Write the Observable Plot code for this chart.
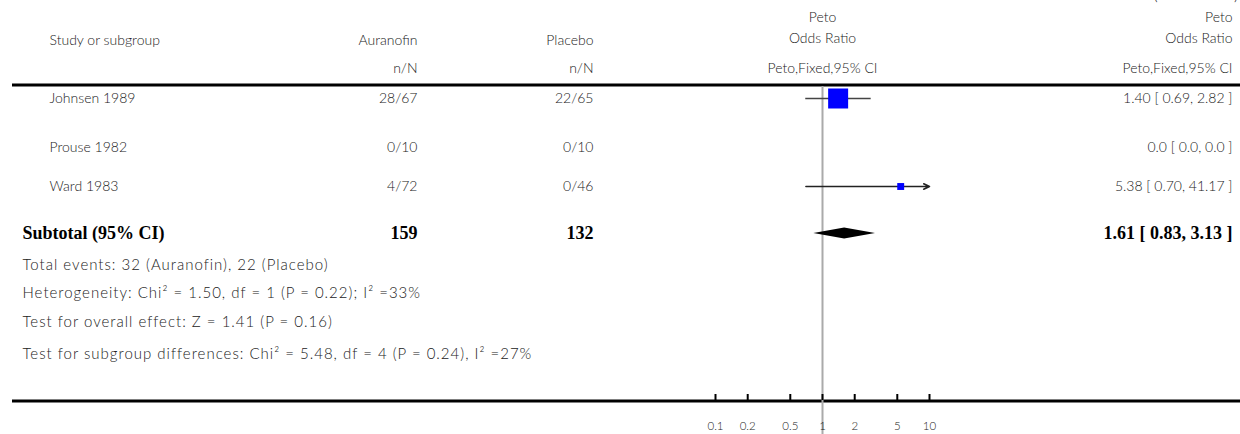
<!DOCTYPE html>
<html>
<head>
<meta charset="utf-8">
<script src="https://cdn.jsdelivr.net/npm/d3@7"></script>
<script src="https://cdn.jsdelivr.net/npm/@observablehq/plot@0.6"></script>
<style>
  body { margin: 0; background: #fff; }
  #chart { position: relative; width: 1240px; height: 434px; overflow: hidden; }
  #chart svg { position: absolute; left: 0; top: 0; }
</style>
</head>
<body>
<div id="chart"></div>
<script>
// ---- data ----
const studies = ["Johnsen 1989", "Prouse 1982", "Ward 1983"];
const auranofin = ["28/67", "0/10", "4/72"];
const placebo = ["22/65", "0/10", "0/46"];
const oddsRatio = [1.40, null, 5.38];
const ciLower = [0.69, null, 0.70];
const ciUpper = [2.82, null, 41.17];
const weights = [89.3, 0, 10.7];
const effectText = ["1.40 [ 0.69, 2.82 ]", "0.0 [ 0.0, 0.0 ]", "5.38 [ 0.70, 41.17 ]"];

const subtotalLabel = "Subtotal (95% CI)";
const subtotalTotals = ["159", "132"];
const subtotalOR = 1.61, subtotalLower = 0.83, subtotalUpper = 3.13;
const subtotalText = "1.61 [ 0.83, 3.13 ]";

const notes = [
  "Total events: 32 (Auranofin), 22 (Placebo)",
  "Heterogeneity: Chi\u00b2 = 1.50, df = 1 (P = 0.22); I\u00b2 =33%",
  "Test for overall effect: Z = 1.41 (P = 0.16)",
  "Test for subgroup differences: Chi\u00b2 = 5.48, df = 4 (P = 0.24), I\u00b2 =27%"
];

const axisTicks = [0.1, 0.2, 0.5, 1, 2, 5, 10];
const axisTickLabels = ["0.1", "0.2", "0.5", "1", "2", "5", "10"];

// ---- layout ----
const W = 1240, H = 434;
const rowY = [98, 147, 186];
const subtotalY = 233;
const noteY = [265, 293, 322, 354];
const col = { study: 49, summary: 22, aur: 417, pla: 593, mid: 822, right: 1232 };
const topRuleY = 84.5, axisY = 400.5;
const displayMax = 10; // intervals beyond the axis end get an arrow

const sans = "Lato, 'Open Sans', sans-serif";
const serif = "'Liberation Serif', 'DejaVu Serif', serif";
const ink = "#222";
const fs = 14;
const light = 300;

const rows = studies.map((s, i) => ({
  study: s, aur: auranofin[i], pla: placebo[i],
  or: oddsRatio[i], lo: ciLower[i], hi: ciUpper[i], w: weights[i],
  txt: effectText[i], y: rowY[i]
}));

const label = (t, x, y, anchor, extra = {}) =>
  Plot.text([t], { x, y, text: d => d, textAnchor: anchor, fontSize: fs, fontWeight: light, fill: ink, ...extra });

const bold = { fontSize: 18, fontWeight: "bold", fontFamily: serif, fill: "#000" };

// ---- table layer (text and rules) ----
const table = Plot.plot({
  width: W, height: H, margin: 0,
  x: { type: "identity", axis: null }, y: { type: "identity", axis: null },
  style: { fontFamily: sans, background: "transparent" },
  marks: [
    label("(Continued)", 1238, -6, "end", { fontSize: 17 }),
    // header
    label("Study or subgroup", col.study, 40, "start"),
    label("Auranofin", col.aur, 40, "end"),
    label("Placebo", col.pla, 40, "end"),
    label("n/N", col.aur, 68, "end"),
    label("n/N", col.pla, 68, "end"),
    label("Peto", col.mid, 17, "middle"),
    label("Odds Ratio", col.mid, 38, "middle"),
    label("Peto,Fixed,95% CI", col.mid, 68, "middle"),
    label("Peto", col.right, 17, "end"),
    label("Odds Ratio", col.right, 38, "end"),
    label("Peto,Fixed,95% CI", col.right, 68, "end"),
    Plot.ruleY([topRuleY], { x1: 12, x2: W, stroke: "#000", strokeWidth: 3 }),
    // study rows
    Plot.text(rows, { x: col.study, y: "y", text: "study", textAnchor: "start", fontSize: fs, fontWeight: light, fill: ink }),
    Plot.text(rows, { x: col.aur, y: "y", text: "aur", textAnchor: "end", fontSize: fs, fontWeight: light, fill: ink }),
    Plot.text(rows, { x: col.pla, y: "y", text: "pla", textAnchor: "end", fontSize: fs, fontWeight: light, fill: ink }),
    Plot.text(rows, { x: col.right, y: "y", text: "txt", textAnchor: "end", fontSize: fs, fontWeight: light, fill: ink }),
    // subtotal
    label(subtotalLabel, col.summary, subtotalY, "start", bold),
    label(subtotalTotals[0], col.aur, subtotalY, "end", bold),
    label(subtotalTotals[1], col.pla, subtotalY, "end", bold),
    label(subtotalText, col.right, subtotalY, "end", bold),
    // notes
    Plot.text(notes, {
      x: col.summary, y: (d, i) => noteY[i], text: d => d, textAnchor: "start",
      fontSize: 15, fontWeight: light, fill: ink
    }),
    // axis baseline
    Plot.ruleY([axisY], { x1: 12, x2: W, stroke: "#000", strokeWidth: 3 })
  ]
});
// the footnotes are set a little wider than the table text
d3.select(table).selectAll("text")
  .filter(function () { return notes.includes(this.textContent); })
  .attr("letter-spacing", "1px");

// ---- forest layer (log odds-ratio scale) ----
const plotted = rows.filter(d => d.or != null && d.w > 0);
const forest = Plot.plot({
  width: W, height: H, margin: 0,
  x: { type: "log", domain: [0.1, 10], range: [715, 929], axis: null },
  y: { type: "identity", axis: null },
  r: { type: "sqrt", domain: [0, 100], range: [0, 11.94] },
  style: { fontFamily: sans, background: "transparent" },
  marks: [
    // line of no effect
    Plot.ruleX([1], { y1: topRuleY + 1.5, y2: H, stroke: "#aaa", strokeWidth: 2 }),
    // confidence intervals within the axis range
    Plot.link(plotted.filter(d => d.hi <= displayMax), {
      x1: "lo", x2: "hi", y1: "y", y2: "y", stroke: "#444", strokeWidth: 1.6
    }),
    // intervals running past the axis end
    Plot.arrow(plotted.filter(d => d.hi > displayMax), {
      x1: "lo", x2: () => displayMax, y1: "y", y2: "y",
      stroke: "#222", strokeWidth: 1.6, headLength: 6, headAngle: 50
    }),
    // study weights as squares
    Plot.dot(plotted, { x: "or", y: "y", r: "w", symbol: "square", fill: "#0000ff", stroke: null }),
    // pooled estimate diamond
    Plot.areaY([
      { x: subtotalLower, y1: subtotalY, y2: subtotalY },
      { x: subtotalOR, y1: subtotalY - 5.5, y2: subtotalY + 5.5 },
      { x: subtotalUpper, y1: subtotalY, y2: subtotalY }
    ], { x: "x", y1: "y1", y2: "y2", fill: "#000" }),
    // axis ticks and labels
    Plot.ruleX(axisTicks, { y1: 394, y2: 400, stroke: "#000", strokeWidth: 2 }),
    Plot.text(axisTicks, { x: d => d, y: 426, text: (d, i) => axisTickLabels[i], fontSize: 11.5, fontWeight: light, fill: ink })
  ]
});

const chart = document.getElementById("chart");
chart.appendChild(table);
chart.appendChild(forest);
</script>
</body>
</html>
